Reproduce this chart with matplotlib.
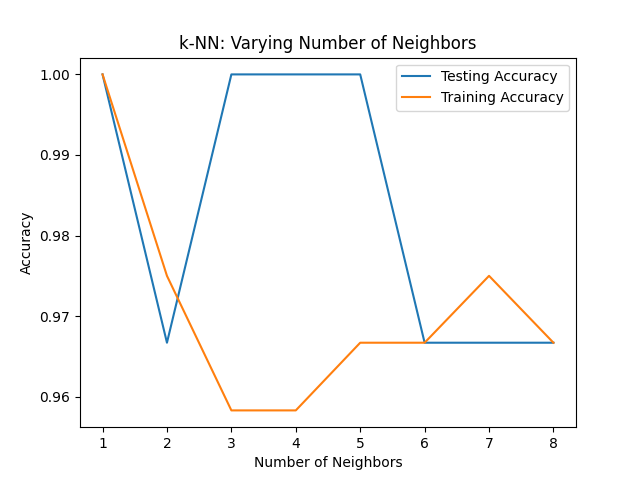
import matplotlib
matplotlib.use("Agg")
import matplotlib.pyplot as plt
import numpy as np

neighbors = [1, 2, 3, 4, 5, 6, 7, 8]
test_accuracy = [1.0, 0.9667, 1.0, 1.0, 1.0, 0.9667, 0.9667, 0.9667]
train_accuracy = [1.0, 0.975, 0.9583, 0.9583, 0.9667, 0.9667, 0.975, 0.9667]

fig, ax = plt.subplots(figsize=(6.4, 4.8), dpi=100)
ax.set_title('k-NN: Varying Number of Neighbors')
ax.plot(neighbors, test_accuracy, label='Testing Accuracy')
ax.plot(neighbors, train_accuracy, label='Training Accuracy')
ax.legend()
ax.set_xlabel('Number of Neighbors')
ax.set_ylabel('Accuracy')
fig.savefig('out.png', dpi=100)
